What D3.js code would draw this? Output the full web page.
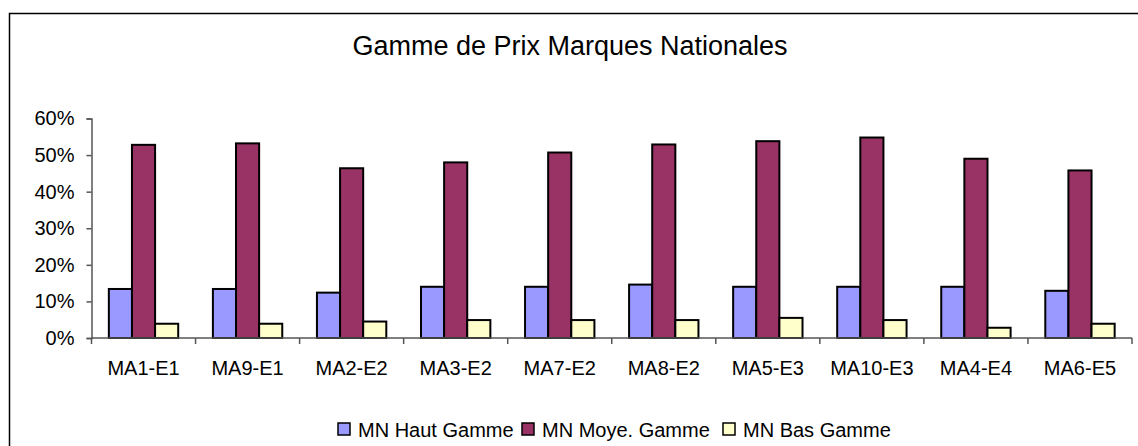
<!DOCTYPE html>
<html>
<head>
<meta charset="utf-8">
<script src="https://cdn.jsdelivr.net/npm/d3@7"></script>
<style>
  body { margin: 0; background: #fff; }
  text { font-family: "Liberation Sans", Arial, sans-serif; fill: #000; }
</style>
</head>
<body>
<div id="chart"></div>
<script>
// chart data
const categories = ["MA1-E1", "MA9-E1", "MA2-E2", "MA3-E2", "MA7-E2", "MA8-E2", "MA5-E3", "MA10-E3", "MA4-E4", "MA6-E5"];
const seriesNames = ["MN Haut Gamme", "MN Moye. Gamme", "MN Bas Gamme"];
const hautGamme = [0.134, 0.134, 0.124, 0.140, 0.140, 0.146, 0.140, 0.140, 0.140, 0.129];
const moyeGamme = [0.528, 0.532, 0.464, 0.480, 0.507, 0.529, 0.538, 0.548, 0.490, 0.458];
const basGamme  = [0.039, 0.039, 0.045, 0.049, 0.049, 0.049, 0.055, 0.049, 0.028, 0.039];
const yTicks = [0, 0.1, 0.2, 0.3, 0.4, 0.5, 0.6];
const colors = ["#9999FF", "#993366", "#FFFFCC"];

const WIDTH = 1138;
const HEIGHT = 446;

const svg = d3.select("#chart").append("svg")
              .attr("width", WIDTH)
              .attr("height", HEIGHT);

// outer chart frame (runs off the right and bottom edge)
svg.append("rect")
   .attr("x", 9.5)
   .attr("y", 13.5)
   .attr("width", 1140)
   .attr("height", 450)
   .attr("fill", "none")
   .attr("stroke", "#000")
   .attr("stroke-width", 1.5);

svg.append("text")
   .attr("x", 570)
   .attr("y", 55)
   .attr("text-anchor", "middle")
   .attr("font-size", "27px")
   .text("Gamme de Prix Marques Nationales");

const x0 = d3.scaleBand()
             .domain(categories)
             .range([91.5, 1132])
             .padding(0);

const x1 = d3.scaleBand()
             .domain(seriesNames)
             .range([x0.bandwidth() / 6, x0.bandwidth() * 5 / 6])
             .padding(0);

const y = d3.scaleLinear()
            .domain([0, 0.6])
            .range([338, 118.5]);

const rows = categories.map((c, i) => ({
    cat: c,
    values: [hautGamme[i], moyeGamme[i], basGamme[i]]
}));

// bars
const groups = svg.selectAll(".group")
                  .data(rows)
                  .enter()
                  .append("g")
                  .attr("class", "group")
                  .attr("transform", d => `translate(${x0(d.cat)},0)`);

groups.selectAll("rect")
      .data(d => d.values.map((v, k) => ({ name: seriesNames[k], value: v, k: k })))
      .enter()
      .append("rect")
      .attr("x", d => x1(d.name))
      .attr("y", d => y(d.value))
      .attr("width", x1.bandwidth())
      .attr("height", d => y(0) - y(d.value))
      .attr("fill", d => colors[d.k])
      .attr("stroke", "#000")
      .attr("stroke-width", 2);

// y axis
const yAxis = svg.append("g")
                 .attr("transform", "translate(91.5,0)")
                 .call(d3.axisLeft(y)
                         .tickValues(yTicks)
                         .tickFormat(d3.format(".0%"))
                         .tickSize(5)
                         .tickPadding(12));

// x axis, ticks on category boundaries
const xAxis = svg.append("g")
                 .attr("transform", "translate(0,338)");

xAxis.append("line")
     .attr("x1", x0.range()[0])
     .attr("x2", x0.range()[1])
     .attr("stroke", "#555")
     .attr("stroke-width", 1.5);

const bounds = categories.map(c => x0(c)).concat([x0.range()[1]]);
xAxis.selectAll(".xt")
     .data(bounds)
     .enter()
     .append("line")
     .attr("class", "xt")
     .attr("x1", d => d)
     .attr("x2", d => d)
     .attr("y1", 0)
     .attr("y2", 6)
     .attr("stroke", "#555")
     .attr("stroke-width", 1.5);

xAxis.selectAll(".xl")
     .data(categories)
     .enter()
     .append("text")
     .attr("class", "xl")
     .attr("x", d => x0(d) + x0.bandwidth() / 2)
     .attr("y", 37)
     .attr("text-anchor", "middle")
     .attr("font-size", "20px")
     .text(d => d);

yAxis.select(".domain").attr("stroke", "#555").attr("stroke-width", 1.5);
yAxis.selectAll(".tick line").attr("stroke", "#555").attr("stroke-width", 1.5);
yAxis.selectAll(".tick text")
     .attr("font-size", "20px")
     .attr("font-family", "Liberation Sans, Arial, sans-serif")
     .attr("fill", "#000");

// legend
const legendX = [338, 522, 723];
const legend = svg.selectAll(".legend")
                  .data(seriesNames)
                  .enter()
                  .append("g")
                  .attr("class", "legend")
                  .attr("transform", (d, i) => `translate(${legendX[i]},423)`);

legend.append("rect")
      .attr("width", 12)
      .attr("height", 12)
      .attr("fill", (d, i) => colors[i])
      .attr("stroke", "#000")
      .attr("stroke-width", 1.5);

legend.append("text")
      .attr("x", 20)
      .attr("y", 13.5)
      .attr("font-size", "20px")
      .text(d => d);
</script>
</body>
</html>
